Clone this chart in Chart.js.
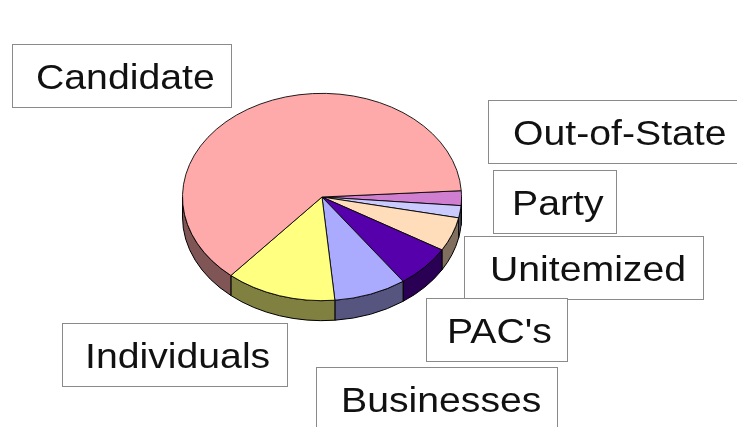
<!DOCTYPE html>
<html>
<head>
<meta charset="utf-8">
<script src="https://cdn.jsdelivr.net/npm/chart.js@4.4.0/dist/chart.umd.min.js"></script>
<style>
    body { margin: 0; background: #fff; }
</style>
</head>
<body>
<canvas id="myChart" width="737" height="427"></canvas>
<script>
// slices, clockwise from the right edge of the pie
const labels = ['Out-of-State', 'Party', 'Unitemized', "PAC's", 'Businesses', 'Individuals', 'Candidate'];
const shares = [2.3, 1.9, 5.3, 6.6, 8.4, 12.8, 62.7];

const topColors = ['#D07ED0', '#CACAFF', '#FFDDBB', '#5500AA', '#AAAAFF', '#FFFF80', '#FFAAAA'];
const sideColors = ['#683F68', '#656580', '#806F5E', '#2A0055', '#555580', '#808040', '#805555'];

// label boxes (x, y, w, h, text inset), same order as labels
const boxes = [
    [488, 100, 262, 63, 25],
    [493, 170, 123, 63, 19],
    [464, 236, 239, 63, 26],
    [426, 298, 141, 63, 21],
    [316, 367, 241, 70, 25],
    [62, 323, 225, 63, 23],
    [12, 44, 219, 63, 24]
];

const SQUASH = 0.743;  // tilt of the pie
const DEPTH = 20;      // thickness in px

function frontParts(a, b) {
    // parts of [a, b] that face the viewer (0..PI, 2PI..3PI)
    const parts = [];
    [[0, Math.PI], [2 * Math.PI, 3 * Math.PI]].forEach(([lo, hi]) => {
        const s = Math.max(a, lo), e = Math.min(b, hi);
        if (e > s) parts.push([s, e]);
    });
    return parts;
}

const pie3d = {
    id: 'pie3d',
    beforeDatasetsDraw(chart) {
        const ctx = chart.ctx;
        const arcs = chart.getDatasetMeta(0).data;
        const cx = arcs[0].x, cy = arcs[0].y, r = arcs[0].outerRadius;
        const ry = r * SQUASH;

        // side walls
        ctx.save();
        ctx.lineWidth = 1;
        ctx.strokeStyle = '#000';
        arcs.forEach((arc, i) => {
            let a = arc.startAngle % (2 * Math.PI);
            if (a < 0) a += 2 * Math.PI;
            const b = a + (arc.endAngle - arc.startAngle);
            frontParts(a, b).forEach(([s, e]) => {
                ctx.beginPath();
                ctx.ellipse(cx, cy, r, ry, 0, s, e);
                ctx.ellipse(cx, cy + DEPTH, r, ry, 0, e, s, true);
                ctx.closePath();
                ctx.fillStyle = sideColors[i];
                ctx.fill();
                ctx.stroke();
            });
        });
        ctx.restore();

        // squash the top face
        ctx.save();
        ctx.translate(cx, cy);
        ctx.scale(1, SQUASH);
        ctx.translate(-cx, -cy);
    },
    afterDatasetsDraw(chart) {
        chart.ctx.restore();
    },
    afterDraw(chart) {
        const ctx = chart.ctx;
        ctx.save();
        ctx.font = '35px "Liberation Sans", Arial, sans-serif';
        ctx.lineWidth = 1;
        boxes.forEach(([x, y, w, h, inset], i) => {
            ctx.fillStyle = '#fff';
            ctx.fillRect(x + 0.5, y + 0.5, w, h);
            ctx.strokeStyle = '#8a8a8a';
            ctx.strokeRect(x + 0.5, y + 0.5, w, h);
            ctx.save();
            ctx.translate(x + inset, y + 45);
            ctx.scale(1.12, 1);
            ctx.fillStyle = '#111';
            ctx.fillText(labels[i], 0, 0);
            ctx.restore();
        });
        ctx.restore();
    }
};

const ctx = document.getElementById('myChart').getContext('2d');
const myChart = new Chart(ctx, {
    type: 'pie',
    data: {
        labels: labels,
        datasets: [{
            data: shares,
            backgroundColor: topColors,
            borderColor: '#000',
            borderWidth: 1
        }]
    },
    options: {
        responsive: false,
        animation: false,
        events: [],
        rotation: 86.5,
        layout: {
            padding: { left: 182, top: 57, right: 275, bottom: 90 }
        },
        plugins: {
            legend: { display: false },
            tooltip: { enabled: false }
        }
    },
    plugins: [pie3d]
});
</script>
</body>
</html>
